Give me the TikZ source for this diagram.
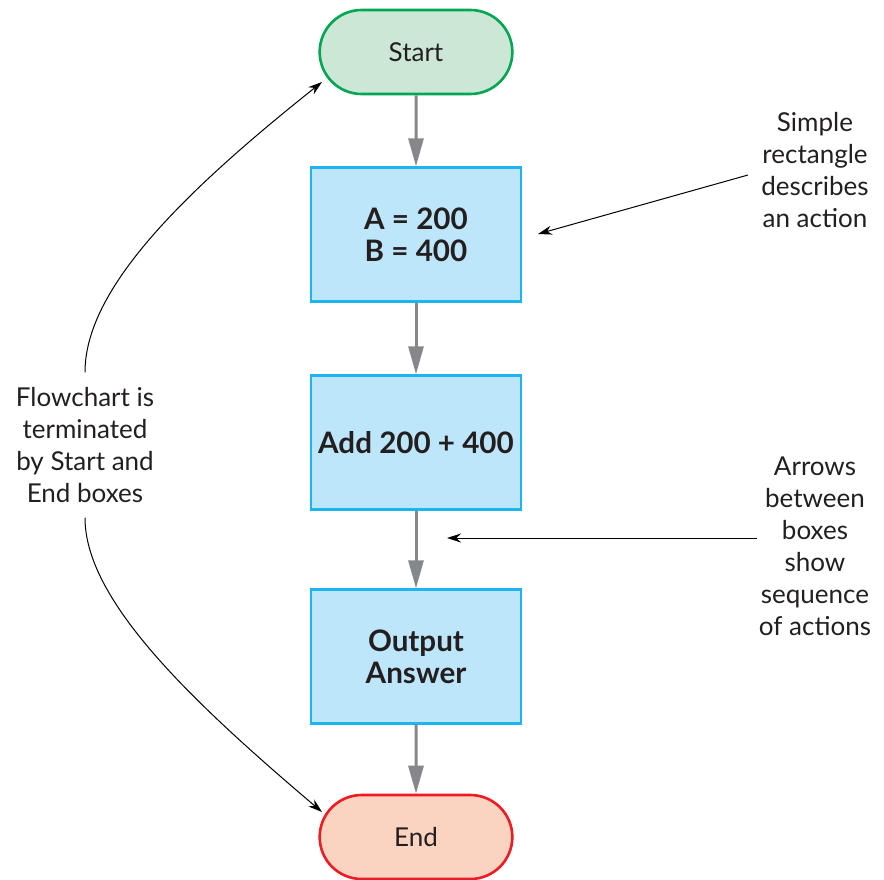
\documentclass[tikz,border=0pt]{standalone}
\usepackage{fontspec}
\setmainfont{Lato}
\usetikzlibrary{shapes.misc,arrows.meta}

\definecolor{StartLine}{HTML}{00A651}
\definecolor{StartFill}{HTML}{CDE7D6}
\definecolor{EndLine}{HTML}{ED1C24}
\definecolor{EndFill}{HTML}{FBD3C1}
\definecolor{BoxLine}{HTML}{1CB5EC}
\definecolor{BoxFill}{HTML}{BDE6FA}
\definecolor{FlowGray}{HTML}{86878B}
\definecolor{TextDark}{HTML}{231F20}

\begin{document}
\begin{tikzpicture}[x=0.5pt,y=-0.5pt]
\tikzset{Term/.style ={rounded rectangle, draw, line width=1.3pt, minimum width=103pt,
  minimum height=42pt, text=TextDark, font=\fontsize{13}{16}\selectfont}}
\tikzset{Step/.style ={rectangle, draw=BoxLine, fill=BoxFill, line width=1.2pt,
  minimum width=105pt, minimum height=67pt, align=center, text=TextDark,
  font=\fontsize{14.8}{16}\selectfont\bfseries}}
\tikzset{Note/.style ={align=center, text=TextDark, font=\fontsize{13}{16}\selectfont}}
\tikzset{Flow/.style ={draw=FlowGray, line width=1.5pt,
  -{Triangle[length=14pt,width=7.5pt,fill=FlowGray]}}}
\tikzset{Point/.style ={draw=black, line width=0.5pt, -{Stealth[length=7pt,width=4.5pt]}}}
\useasboundingbox (0,0) rectangle (884,879);
\node[Term, draw=StartLine, fill=StartFill] (start) at (416,52) {Start};
\node[Step] (assign) at (416,234.5) {A = 200\\B = 400};
\node[Step] (add) at (416,442.5) {Add 200 + 400};
\node[Step] (output) at (416,656.5) {Output\\Answer};
\node[Term, draw=EndLine, fill=EndFill] (end) at (416,837) {End};
\draw[Flow] (start) -- (assign);
\draw[Flow] (assign) -- (add);
\draw[Flow] (add) -- (output);
\draw[Flow] (output) -- (end);
\node[Note] (simple) at (815,170) {Simple\\rectangle\\describes\\an action};
\node[Note] (arrows) at (815,546) {Arrows\\between\\boxes\\show\\sequence\\of actions};
\node[Note] (flowchart) at (85,445) {Flowchart is\\terminated\\by Start and\\End boxes};
\coordinate (simpletip) at (538,234);
\coordinate (arrowstip) at (447,538);
\coordinate (starttip) at (322,82);
\coordinate (endtip) at (322,812);
\draw[Point] (748,175) -- (simpletip);
\draw[Point] (757,538) -- (arrowstip);
\draw[Point] (flowchart.north) ++(0,-8) .. controls (85,290) and (180,195) .. (starttip);
\draw[Point] (flowchart.south) ++(0,8) .. controls (85,600) and (190,700) .. (endtip);
\end{tikzpicture}
\end{document}
